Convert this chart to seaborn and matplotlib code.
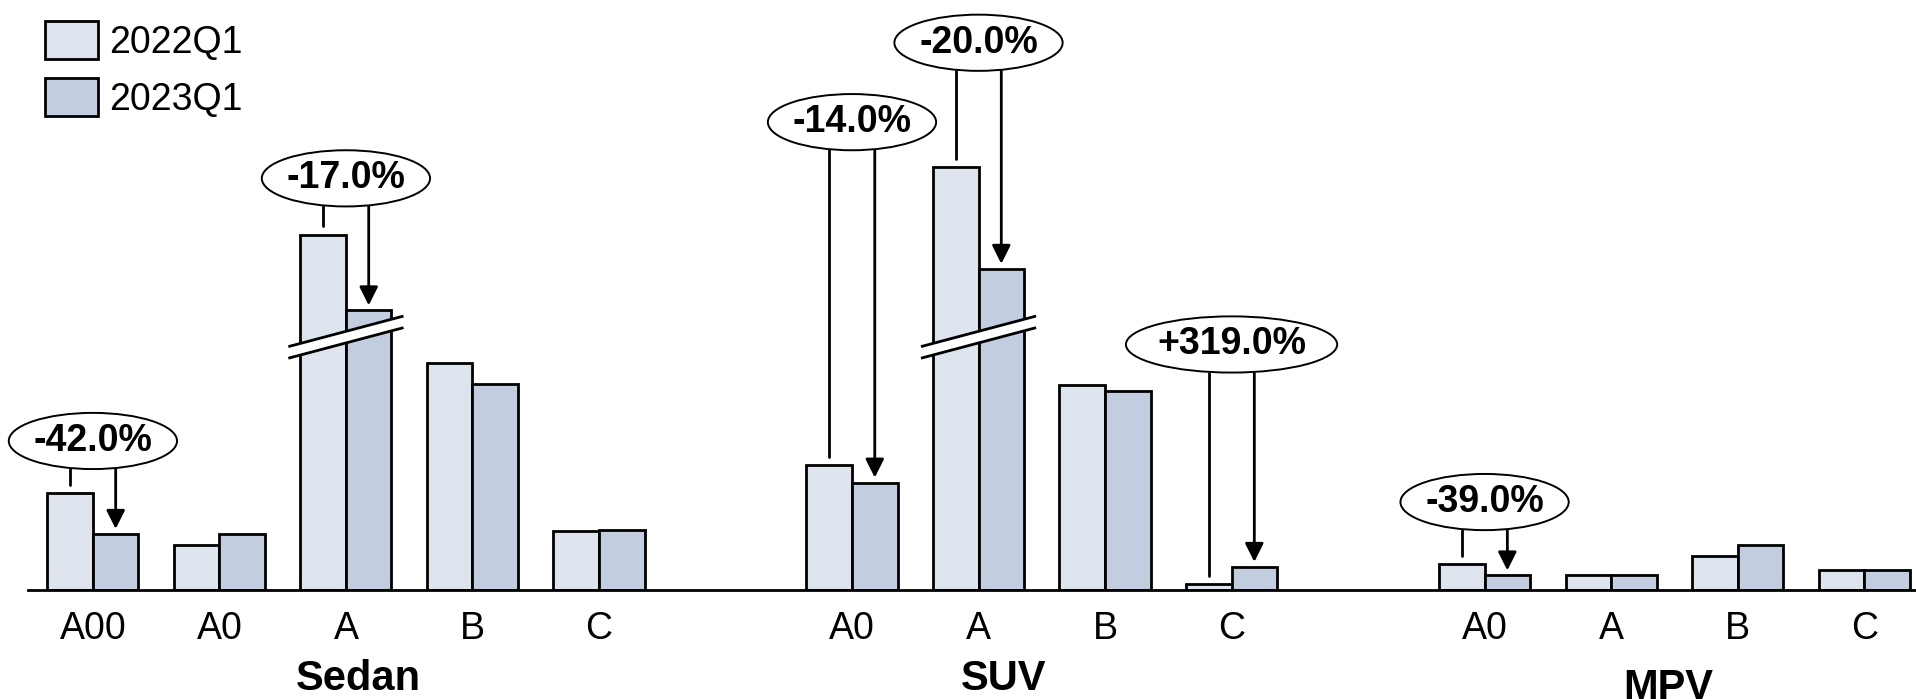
import numpy as np
import pandas as pd
import matplotlib.pyplot as plt
import seaborn as sns
from matplotlib.patches import Ellipse, Patch, Polygon

# bar heights (chart units, the two A bars are drawn with a broken axis)
quarters = ['2022Q1', '2023Q1']
groups = ['Sedan', 'SUV', 'MPV']
sedan_levels = ['A00', 'A0', 'A', 'B', 'C']
suv_levels = ['A0', 'A', 'B', 'C']
mpv_levels = ['A0', 'A', 'B', 'C']
sedan_2022 = [79, 37, 291, 186, 48]
sedan_2023 = [46, 46, 229, 169, 49]
suv_2022 = [102, 346, 168, 4.6]
suv_2023 = [88, 263, 163, 19]
mpv_2022 = [21, 12, 28, 16]
mpv_2023 = [12, 12, 37, 16]

# year on year callouts
callout_group = ['Sedan', 'Sedan', 'SUV', 'SUV', 'SUV', 'MPV']
callout_level = ['A00', 'A', 'A0', 'A', 'C', 'A0']
callout_text = ['-42.0%', '-17.0%', '-14.0%', '-20.0%', '+319.0%', '-39.0%']
callout_y = [122, 337, 383, 448, 201, 72]        # ellipse centre height
callout_w = [1.33, 1.33, 1.33, 1.33, 1.67, 1.33]  # ellipse width in slots

broken = [('Sedan', 'A'), ('SUV', 'A')]

light = '#DDE4EE'
dark = '#C3CDE0'

# long table, one empty slot between the groups
rows = []
slot = {}
group_span = {}
pos = 0
for g, levels, v1, v2 in [('Sedan', sedan_levels, sedan_2022, sedan_2023),
                          ('SUV', suv_levels, suv_2022, suv_2023),
                          ('MPV', mpv_levels, mpv_2022, mpv_2023)]:
    start = pos
    for lv, a, b in zip(levels, v1, v2):
        slot[(g, lv)] = pos
        rows.append({'x': pos, 'group': g, 'level': lv, 'quarter': quarters[0], 'value': a})
        rows.append({'x': pos, 'group': g, 'level': lv, 'quarter': quarters[1], 'value': b})
        pos += 1
    group_span[g] = (start, pos - 1)
    pos += 1
df = pd.DataFrame(rows)

sns.set_style('white')
plt.rcParams['font.family'] = ['Liberation Sans', 'DejaVu Sans']
plt.rcParams['text.color'] = 'black'
plt.rcParams['xtick.color'] = 'black'
plt.rcParams['axes.labelcolor'] = 'black'

fig = plt.figure(figsize=(19.16, 6.99), dpi=100)
ax = fig.add_axes([28 / 1916, 109 / 699, 1 - 28 / 1916, 590 / 699])

sns.barplot(data=df, x='x', y='value', hue='quarter', native_scale=True,
            palette=[light, dark], saturation=1, width=0.72,
            edgecolor='black', linewidth=2, legend=False, ax=ax)

ax.set_xlim(-0.513, 14.41)
ax.set_ylim(0, 483)
for s in ['top', 'right', 'left']:
    ax.spines[s].set_visible(False)
ax.spines['bottom'].set_linewidth(2)
ax.spines['bottom'].set_color('black')
ax.set_yticks([])
ax.set_xlabel('')
ax.set_ylabel('')

tick_pos = df['x'].drop_duplicates().tolist()
tick_lab = df.drop_duplicates('x')['level'].tolist()
ax.set_xticks(tick_pos, labels=tick_lab)
ax.tick_params(axis='x', length=0, pad=15, labelsize=27, labelcolor='black')

# group names under the ticks
group_x = {'Sedan': 0.1, 'SUV': -0.3, 'MPV': -0.05}
group_y = {'Sedan': -82, 'SUV': -82, 'MPV': -89}
for g in groups:
    a, b = group_span[g]
    ax.text((a + b) / 2 + group_x[g], group_y[g], g, ha='center', va='baseline',
            fontsize=30, fontweight='bold', clip_on=False)

# broken-axis marks across the tall bars
half = 0.455
rise = 25
gap = 9.5
mid = 207
for g, lv in broken:
    xc = slot[(g, lv)]
    xl, xr = xc - half, xc + half
    lo = [mid - rise / 2 - gap / 2, mid + rise / 2 - gap / 2]
    hi = [mid - rise / 2 + gap / 2, mid + rise / 2 + gap / 2]
    ax.add_patch(Polygon([(xl, lo[0]), (xr, lo[1]), (xr, hi[1]), (xl, hi[0])],
                         closed=True, facecolor='white', edgecolor='none', zorder=5))
    ax.plot([xl, xr], lo, color='black', lw=2, zorder=6, solid_capstyle='butt')
    ax.plot([xl, xr], hi, color='black', lw=2, zorder=6, solid_capstyle='butt')

# callouts
v_first = dict(zip(zip(df['group'], df['level'], df['quarter']), df['value']))
eh = 46
for g, lv, txt, cy, w in zip(callout_group, callout_level, callout_text, callout_y, callout_w):
    xc = slot[(g, lv)]
    a = v_first[(g, lv, quarters[0])]
    b = v_first[(g, lv, quarters[1])]
    ax.add_patch(Ellipse((xc, cy), w, eh, facecolor='white', edgecolor='black',
                         lw=1.4, zorder=7, clip_on=False))
    ax.text(xc, cy, txt, ha='center', va='center', fontsize=27, fontweight='bold',
            zorder=8, clip_on=False)
    bottom = cy - eh / 2
    ax.plot([xc - 0.18, xc - 0.18], [bottom, a + 7], color='black', lw=2, zorder=6)
    ax.annotate('', xy=(xc + 0.18, b + 4), xytext=(xc + 0.18, bottom),
                arrowprops=dict(arrowstyle='-|>', color='black', lw=2,
                                mutation_scale=28, shrinkA=0, shrinkB=0), zorder=6)

handles = [Patch(facecolor=c, edgecolor='black', linewidth=2, label=q)
           for c, q in zip([light, dark], quarters)]
fig.legend(handles=handles, loc='upper left', bbox_to_anchor=(45 / 1916, 1 - 21 / 699),
           frameon=False, fontsize=27, borderpad=0, borderaxespad=0,
           handlelength=1.42, handleheight=1.2, handletextpad=0.3, labelspacing=0.45)

fig.savefig('out.png', dpi=100)
